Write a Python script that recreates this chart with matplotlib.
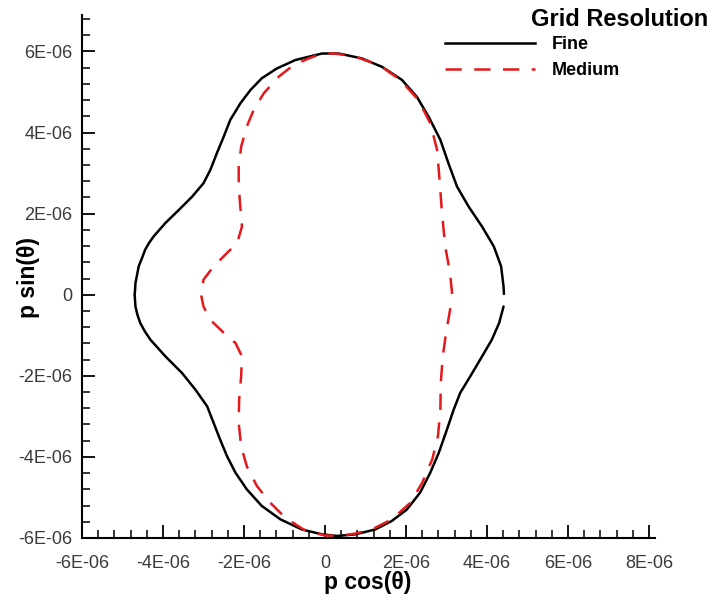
import matplotlib
matplotlib.use("Agg")
import matplotlib.pyplot as plt
from matplotlib.ticker import MultipleLocator, FixedLocator, FixedFormatter
from matplotlib.lines import Line2D
import numpy as np

plt.rcParams['font.family'] = ['Liberation Sans', 'DejaVu Sans']

SCALE = 1e-6  # values below are in units of 1E-06

# Fine grid: p cos(theta), p sin(theta), counter-clockwise from theta ~ 0
fine_x = [4.42, 4.41, 4.35, 4.17, 3.88, 3.55, 3.26, 3.05, 2.85, 2.56, 2.27, 1.90, 1.41, 0.91, 0.34,
          -0.07, -0.24, -0.73, -1.19, -1.56, -1.84, -2.09, -2.34, -2.50, -2.67, -2.83, -3.00, -3.28,
          -3.61, -3.94, -4.23, -4.35, -4.44, -4.52, -4.60, -4.64, -4.68, -4.69, -4.70, -4.68, -4.63,
          -4.56, -4.45, -4.31, -3.94, -3.53, -3.20,
          -2.91, -2.75, -2.59, -2.42, -2.21, -1.93, -1.56, -1.10, -0.57, -0.07, 0.30, 0.75, 1.24,
          1.65, 2.02, 2.35, 2.60, 2.81, 3.01, 3.18, 3.34, 3.59, 3.88, 4.12, 4.30, 4.41]
fine_y = [0.02, 0.20, 0.70, 1.19, 1.68, 2.17, 2.67, 3.24, 3.82, 4.39, 4.88, 5.30, 5.62, 5.83, 5.95,
          5.95, 5.91, 5.79, 5.58, 5.34, 5.05, 4.72, 4.31, 3.90, 3.49, 3.08, 2.75, 2.42,
          2.09, 1.77, 1.44, 1.27, 1.11, 0.90, 0.70, 0.49, 0.29, 0.12, 0.00, -0.29, -0.50,
          -0.70, -0.90, -1.11, -1.52, -1.93, -2.34,
          -2.75, -3.16, -3.57, -3.98, -4.39, -4.80, -5.21, -5.54, -5.79, -5.91, -5.95, -5.91, -5.79,
          -5.58, -5.30, -4.88, -4.39, -3.90, -3.33, -2.83, -2.42, -2.01, -1.52, -1.11, -0.70, -0.29]

# Medium grid
medium_x = [3.14, 3.09, 2.97, 2.89, 2.83, 2.77, 2.60, 2.31, 1.86, 1.33, 0.75, 0.25, -0.07, -0.40,
            -0.77, -1.14, -1.51, -1.76, -1.93, -2.07, -2.13, -2.13, -2.09, -2.05, -2.17, -2.42,
            -2.75, -3.00, -3.06, -3.00, -2.83, -2.50, -2.21, -2.05, -2.07, -2.12, -2.13, -2.07,
            -1.93, -1.68, -1.35, -0.98, -0.53, 0.01, 0.42, 0.75, 1.16, 1.65, 2.11, 2.40, 2.65,
            2.79, 2.85, 2.86, 2.91, 2.99, 3.09, 3.13]
medium_y = [0.02, 0.53, 1.19, 2.01, 2.83, 3.57, 4.23, 4.80, 5.30, 5.67, 5.87, 5.95, 5.95, 5.83,
            5.67, 5.38, 4.97, 4.56, 4.15, 3.65, 3.16, 2.67, 2.17, 1.68, 1.27, 1.03,
            0.70, 0.37, 0.00, -0.29, -0.62, -0.94, -1.19, -1.52, -2.01, -2.59, -3.16, -3.74,
            -4.23, -4.72, -5.13, -5.50, -5.79, -5.94, -5.94, -5.89, -5.79, -5.54, -5.13, -4.64, -4.06,
            -3.49, -2.83, -2.17, -1.52, -0.94, -0.37, -0.05]

series_labels = ["Fine", "Medium"]
legend_title = "Grid Resolution"
x_ticks = [-6, -4, -2, 0, 2, 4, 6, 8]
x_tick_labels = ["-6E-06", "-4E-06", "-2E-06", "0", "2E-06", "4E-06", "6E-06", "8E-06"]
y_ticks = [-6, -4, -2, 0, 2, 4, 6]
y_tick_labels = ["-6E-06", "-4E-06", "-2E-06", "0", "2E-06", "4E-06", "6E-06"]

RED = '#e3191c'
DASH = (6.5, 5)

fig = plt.figure(figsize=(7.2, 6.01), dpi=100)
ax = fig.add_axes([82/720, 1-538/601, (655-82)/720, (538-15)/601])

ax.plot(np.array(fine_x)*SCALE, np.array(fine_y)*SCALE, color='black', lw=1.8,
        solid_joinstyle='round', solid_capstyle='round')
ax.plot(np.array(medium_x)*SCALE, np.array(medium_y)*SCALE, color=RED, lw=1.8,
        dashes=DASH, dash_joinstyle='round')

ax.set_xlim(-6e-6, 8.15e-6)
ax.set_ylim(-6e-6, 6.9e-6)

for s in ['top', 'right']:
    ax.spines[s].set_visible(False)
for s in ['left', 'bottom']:
    ax.spines[s].set_linewidth(1.5)

ax.xaxis.set_major_locator(FixedLocator([v*SCALE for v in x_ticks]))
ax.xaxis.set_major_formatter(FixedFormatter(x_tick_labels))
ax.yaxis.set_major_locator(FixedLocator([v*SCALE for v in y_ticks]))
ax.yaxis.set_major_formatter(FixedFormatter(y_tick_labels))
ax.xaxis.set_minor_locator(MultipleLocator(0.4e-6))
ax.yaxis.set_minor_locator(MultipleLocator(0.4e-6))
ax.tick_params(which='major', direction='in', length=9.5, width=1.3, labelsize=13,
               labelcolor='#3a3a3a')
ax.tick_params(which='minor', direction='in', length=6, width=1.1)
ax.tick_params(axis='x', which='major', pad=12)
ax.tick_params(axis='y', which='major', pad=7)

fig.text(368/720, 1-582/601, "p cos(θ)", fontsize=16.5, fontweight='bold', ha='center', va='center')
fig.text(29/720, 1-278/601, "p sin(θ)", fontsize=16.5, fontweight='bold', ha='center', va='center',
         rotation=90)

fig.text(620/720, 1-20/601, legend_title, fontsize=17, fontweight='bold', ha='center', va='center')
handles = [Line2D([], [], color='black', lw=1.8),
           Line2D([], [], color=RED, lw=1.8, dashes=DASH)]
fig.legend(handles=handles, labels=series_labels, loc='upper left',
           bbox_to_anchor=(445/720, 1-36/601),
           frameon=False, prop={'weight': 'bold', 'size': 13}, handlelength=5.0,
           handletextpad=0.9, labelspacing=0.5, borderpad=0, borderaxespad=0)

fig.savefig("out.png", dpi=100)
